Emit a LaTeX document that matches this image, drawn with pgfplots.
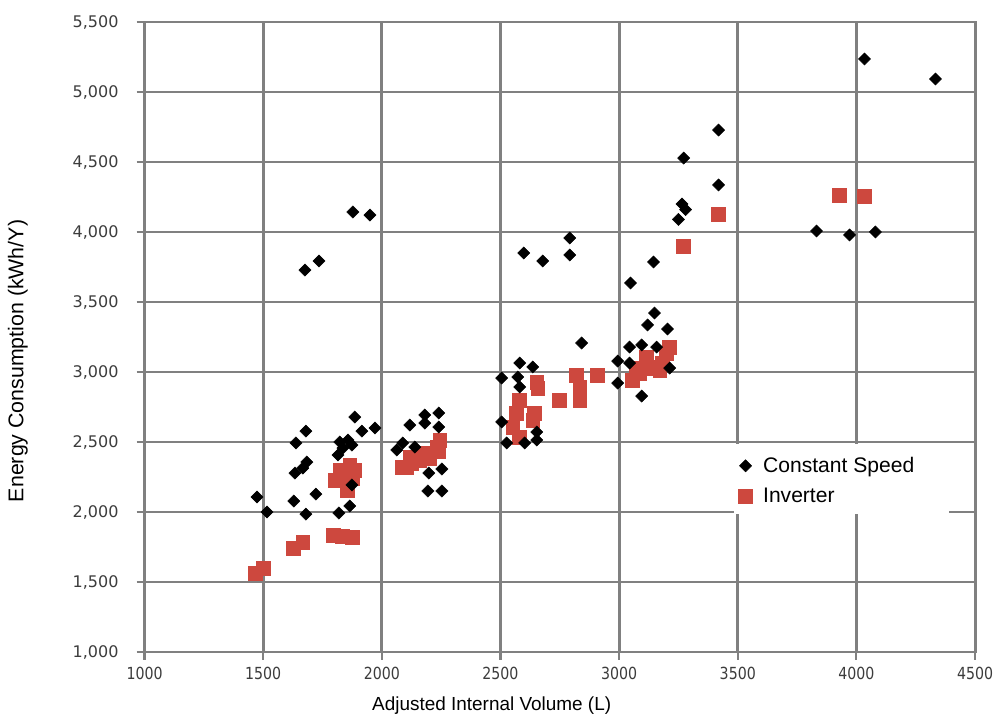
\documentclass[border=0pt]{standalone}
\usepackage{pgfplots}
\pgfplotsset{compat=1.18}
\usepackage{fontspec}
\setmainfont{Liberation Sans}
\newfontfamily\tickfont{DejaVu Sans}
\definecolor{gridgray}{RGB}{128,128,128}
\definecolor{invred}{RGB}{205,72,62}
\definecolor{ticktext}{RGB}{60,60,60}
\begin{document}
\begin{tikzpicture}
\useasboundingbox (-108.4pt,-53.25pt) rectangle (641.6pt,489pt);
\begin{axis}[
  at={(0,0)}, anchor=south west,
  scale only axis, width=622.9pt, height=472.5pt,
  xmin=1000, xmax=4500, ymin=1000, ymax=5500,
  xtick={1000,1500,...,4500}, ytick={1000,1500,...,5500},
  grid=major, major grid style={gridgray, line width=2.2pt},
  axis line style={gridgray, line width=2.2pt},
  tick style={gridgray, line width=1.6pt},
  tick align=outside, major tick length=6pt,
  xtick pos=left, ytick pos=left,
  /pgf/number format/assume math mode=true,
  xticklabel={\scalebox{0.85}[1]{\tickfont\pgfmathprintnumber[set thousands separator={}]{\tick}}},
  yticklabel={\tickfont\pgfmathprintnumber[set thousands separator={,}]{\tick}},
  xticklabel style={font=\fontsize{12.5}{14}\selectfont, text=ticktext, anchor=north, yshift=-2pt},
  yticklabel style={font=\fontsize{12}{14}\selectfont, text=ticktext, anchor=east, xshift=-10pt},
  xlabel={Adjusted Internal Volume (L)},
  ylabel={Energy Consumption (kWh/Y)},
  xlabel style={font=\fontsize{14.2}{17}\selectfont, at={(axis description cs:0.418,0)}, anchor=center, yshift=-40.5pt},
  ylabel style={font=\fontsize{16}{19}\selectfont, at={(axis description cs:-0.1524,0.462)}, anchor=center},
  legend style={at={(0.7134,0.316)}, anchor=north west, draw=none, fill=none,
    font=\fontsize{15.8}{18}\selectfont, row sep=6.5pt, column sep=6pt, inner sep=1pt,
    legend cell align=left},
  reverse legend,
]
\fill[white] (axis cs:3486,1985) rectangle (axis cs:4392,2488);
\addplot[only marks, mark=square*, mark size=5.2pt, mark options={fill=invred, draw=invred}] coordinates {
(1465,1564)(1499,1600)(1625,1743)(1667,1786)(1794,1836)(1832,1828)(1874,1821)
(1802,2228)(1823,2300)(1836,2228)(1853,2157)(1865,2336)(1874,2243)(1886,2300)
(2084,2321)(2105,2321)(2118,2393)(2126,2350)(2160,2371)(2173,2421)(2200,2380)
(2232,2464)(2244,2514)(2240,2430)
(2552,2607)(2568,2707)(2581,2536)(2581,2800)(2636,2657)(2644,2707)(2653,2928)
(2657,2885)(2749,2800)(2821,2978)(2834,2800)(2834,2893)(2834,2850)(2909,2978)
(3057,2943)(3074,3028)(3086,2993)(3116,3107)(3128,3036)(3141,3028)(3171,3014)
(3183,3064)(3200,3136)(3213,3178)
(3272,3900)(3419,4129)(3928,4264)(4034,4257)
};
\addlegendentry{Inverter}
\addplot[only marks, mark=square*, mark size=3.2pt, mark options={fill=black, draw=black, rotate=45}] coordinates {
(1474,2107)(1516,2000)(1629,2078)(1634,2278)(1638,2493)(1667,2314)(1680,2578)
(1680,1985)(1684,2357)(1722,2128)(1676,3728)(1735,3793)(1815,2407)(1819,1993)
(1823,2500)(1836,2457)(1857,2514)(1865,2043)(1874,2478)(1874,2193)(1886,2678)
(1916,2578)(1971,2600)(1878,4143)(1950,4121)
(2063,2443)(2088,2493)(2118,2621)(2139,2464)(2181,2693)(2181,2635)(2194,2150)
(2198,2278)(2240,2707)(2240,2607)(2253,2307)(2253,2150)
(2505,2957)(2505,2643)(2526,2493)(2573,2964)(2581,3064)(2581,2893)(2598,3850)
(2602,2493)(2636,3036)(2653,2571)(2653,2514)(2678,3793)(2792,3957)(2792,3836)
(2842,3207)
(2994,3078)(2994,2921)(3044,3178)(3044,3064)(3048,3636)(3095,3193)(3095,2828)
(3120,3336)(3145,3786)(3149,3421)(3158,3178)(3204,3307)(3213,3028)
(3250,4090)(3265,4200)(3280,4160)(3272,4528)(3419,4728)(3419,4336)
(3832,4007)(3971,3979)(4080,4000)(4034,5236)(4333,5093)
};
\addlegendentry{Constant Speed}
\end{axis}
\end{tikzpicture}
\end{document}
